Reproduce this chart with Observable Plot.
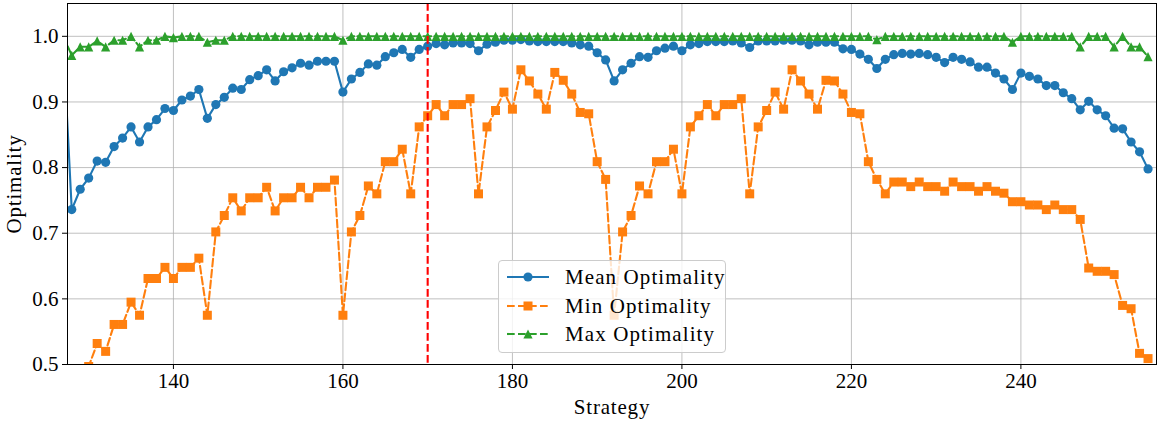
<!DOCTYPE html>
<html>
<head>
<meta charset="utf-8">
<script src="https://cdn.jsdelivr.net/npm/d3@7"></script>
<script src="https://cdn.jsdelivr.net/npm/@observablehq/plot@0.6"></script>
<style>
  html, body { margin: 0; padding: 0; background: white; }
  #wrap { position: relative; width: 1157px; height: 421px; font-family: "Liberation Serif", serif; }
  #legend { position: absolute; left: 498px; top: 260px; width: 228px; height: 93px;
    background: rgba(255,255,255,0.8); border: 1px solid #cccccc; border-radius: 4px; box-sizing: border-box; }
  #legend .row { position: absolute; left: 0; height: 26px; width: 100%; }
  #legend svg { position: absolute; left: 0; top: 0; }
  #legend span { position: absolute; left: 66px; top: 0; line-height: 26px; font-size: 21px; letter-spacing: 1.1px; color: black; white-space: nowrap; }
  g[aria-label$="axis label"] text { letter-spacing: 0.8px; }
</style>
</head>
<body>
<div id="wrap"><div id="chart"></div><div id="legend"></div></div>
<script>
// ---- data ----
const firstStrategy = 127;
const meanOptimality = [
  0.990, 0.736, 0.767, 0.784, 0.810, 0.808, 0.832, 0.845, 0.862, 0.839,
  0.862, 0.873, 0.890, 0.887, 0.903, 0.909, 0.919, 0.875, 0.896, 0.907,
  0.921, 0.919, 0.934, 0.940, 0.949, 0.932, 0.946, 0.952, 0.959, 0.956,
  0.962, 0.962, 0.962, 0.915, 0.935, 0.945, 0.958, 0.956, 0.969, 0.975,
  0.980, 0.968, 0.980, 0.985, 0.989, 0.987, 0.990, 0.990, 0.989, 0.978,
  0.988, 0.991, 0.994, 0.994, 0.995, 0.993, 0.992, 0.992, 0.992, 0.992,
  0.990, 0.987, 0.985, 0.975, 0.964, 0.932, 0.949, 0.959, 0.969, 0.968,
  0.978, 0.982, 0.985, 0.978, 0.987, 0.989, 0.992, 0.992, 0.992, 0.993,
  0.990, 0.983, 0.993, 0.993, 0.993, 0.994, 0.994, 0.993, 0.987, 0.991,
  0.991, 0.991, 0.981, 0.980, 0.973, 0.965, 0.951, 0.965, 0.972, 0.974,
  0.973, 0.974, 0.972, 0.968, 0.960, 0.968, 0.965, 0.961, 0.953, 0.953,
  0.944, 0.935, 0.919, 0.944, 0.939, 0.935, 0.925, 0.925, 0.914, 0.905,
  0.888, 0.901, 0.888, 0.879, 0.860, 0.859, 0.839, 0.824, 0.798
];
const minOptimality = [
  0.460, 0.440, 0.470, 0.497, 0.532, 0.520, 0.561, 0.561, 0.595, 0.575,
  0.631, 0.631, 0.648, 0.631, 0.648, 0.648, 0.662, 0.575, 0.702, 0.727,
  0.754, 0.734, 0.754, 0.754, 0.770, 0.734, 0.754, 0.754, 0.770, 0.754,
  0.770, 0.770, 0.781, 0.575, 0.702, 0.727, 0.772, 0.760, 0.809, 0.809,
  0.828, 0.760, 0.862, 0.879, 0.896, 0.879, 0.896, 0.896, 0.905, 0.760,
  0.862, 0.887, 0.915, 0.889, 0.949, 0.932, 0.912, 0.889, 0.945, 0.933,
  0.912, 0.884, 0.882, 0.809, 0.782, 0.575, 0.702, 0.727, 0.772, 0.760,
  0.809, 0.809, 0.828, 0.760, 0.862, 0.879, 0.896, 0.879, 0.896, 0.896,
  0.905, 0.760, 0.862, 0.887, 0.915, 0.889, 0.949, 0.932, 0.912, 0.889,
  0.933, 0.932, 0.912, 0.884, 0.882, 0.809, 0.782, 0.760, 0.778, 0.778,
  0.771, 0.778, 0.771, 0.771, 0.764, 0.778, 0.771, 0.771, 0.764, 0.771,
  0.764, 0.761, 0.748, 0.748, 0.743, 0.743, 0.736, 0.743, 0.736, 0.736,
  0.721, 0.647, 0.642, 0.642, 0.637, 0.590, 0.585, 0.517, 0.509
];
const maxOptimality = [
  1.000, 0.971, 0.984, 0.984, 0.993, 0.984, 0.994, 0.994, 1.000, 0.984,
  0.994, 0.994, 1.000, 0.998, 1.000, 1.000, 1.000, 0.991, 0.994, 0.994,
  1.000, 1.000, 1.000, 1.000, 1.000, 1.000, 1.000, 1.000, 1.000, 1.000,
  1.000, 1.000, 1.000, 0.994, 1.000, 1.000, 1.000, 1.000, 1.000, 1.000,
  1.000, 1.000, 1.000, 1.000, 1.000, 1.000, 1.000, 1.000, 1.000, 1.000,
  1.000, 1.000, 1.000, 1.000, 1.000, 1.000, 1.000, 1.000, 1.000, 1.000,
  1.000, 1.000, 1.000, 1.000, 1.000, 1.000, 1.000, 1.000, 1.000, 1.000,
  1.000, 1.000, 1.000, 1.000, 1.000, 1.000, 1.000, 1.000, 1.000, 1.000,
  1.000, 1.000, 1.000, 1.000, 1.000, 1.000, 1.000, 1.000, 1.000, 1.000,
  1.000, 1.000, 1.000, 1.000, 1.000, 1.000, 0.995, 1.000, 1.000, 1.000,
  1.000, 1.000, 1.000, 1.000, 1.000, 1.000, 1.000, 1.000, 1.000, 1.000,
  1.000, 1.000, 0.991, 1.000, 1.000, 1.000, 1.000, 1.000, 1.000, 1.000,
  0.984, 1.000, 1.000, 1.000, 0.984, 1.000, 0.984, 0.984, 0.969
];
const xTicks = [140, 160, 180, 200, 220, 240];
const yTicks = [0.5, 0.6, 0.7, 0.8, 0.9, 1.0];
const markerLine = [170];
const seriesNames = ["Mean Optimality", "Min Optimality", "Max Optimality"];
const colors = ["#1f77b4", "#ff7f0e", "#2ca02c"];

const rows = meanOptimality.map((m, i) => ({
  s: firstStrategy + i, mean: m, min: minOptimality[i], max: maxOptimality[i]
}));

// matplotlib-like marker shapes
const squareSym = { draw(ctx, size) { const r = Math.sqrt(size / Math.PI); ctx.rect(-r, -r, 2 * r, 2 * r); } };
const triSym = { draw(ctx, size) { const r = Math.sqrt(size / Math.PI); ctx.moveTo(0, -r); ctx.lineTo(r, r); ctx.lineTo(-r, r); ctx.closePath(); } };

const dash = "7.7,3.3";
const lw = 2.1;

const chart = Plot.plot({
  width: 1157,
  height: 421,
  marginLeft: 67,
  marginRight: 1,
  marginTop: 3,
  marginBottom: 57,
  style: { fontFamily: "Liberation Serif, serif", fontSize: "21px", color: "black", background: "white" },
  x: { domain: [127.5, 256] },
  y: { domain: [0.5, 1.05] },
  marks: [
    Plot.gridX(xTicks, { stroke: "#b0b0b0", strokeOpacity: 1, strokeWidth: 0.8 }),
    Plot.gridY(yTicks, { stroke: "#b0b0b0", strokeOpacity: 1, strokeWidth: 0.8 }),
    Plot.line(rows, { x: "s", y: "mean", stroke: colors[0], strokeWidth: lw, clip: true }),
    Plot.dot(rows, { x: "s", y: "mean", r: 4.6, fill: colors[0], symbol: "circle", clip: true }),
    Plot.line(rows, { x: "s", y: "min", stroke: colors[1], strokeWidth: lw, strokeDasharray: dash, clip: true }),
    Plot.dot(rows, { x: "s", y: "min", r: 4.5, fill: colors[1], symbol: squareSym, clip: true }),
    Plot.line(rows, { x: "s", y: "max", stroke: colors[2], strokeWidth: lw, strokeDasharray: dash, clip: true }),
    Plot.dot(rows, { x: "s", y: "max", r: 4.6, fill: colors[2], symbol: triSym, clip: true }),
    Plot.ruleX(markerLine, { stroke: "#ff0000", strokeWidth: lw, strokeDasharray: dash }),
    Plot.frame({ stroke: "black", strokeWidth: 1 }),
    Plot.axisX(xTicks, { tickSize: 5, tickPadding: 4, label: "Strategy", labelAnchor: "center", labelOffset: 49, labelArrow: "none" }),
    Plot.axisY(yTicks, { tickSize: 5, tickPadding: 4, tickFormat: d3.format(".1f"), label: "Optimality", labelAnchor: "center", labelOffset: 61, labelArrow: "none" })
  ]
});
document.getElementById("chart").appendChild(chart);

// legend overlay inside the axes
const legend = document.getElementById("legend");
const rowTops = [3, 32, 60];
const markers = ["circle", "square", "tri"];
seriesNames.forEach((name, i) => {
  const row = document.createElement("div");
  row.className = "row";
  row.style.top = rowTops[i] + "px";
  const ns = "http://www.w3.org/2000/svg";
  const svg = document.createElementNS(ns, "svg");
  svg.setAttribute("width", "60"); svg.setAttribute("height", "26");
  const ln = document.createElementNS(ns, "line");
  ln.setAttribute("x1", 8); ln.setAttribute("x2", 50); ln.setAttribute("y1", 13); ln.setAttribute("y2", 13);
  ln.setAttribute("stroke", colors[i]); ln.setAttribute("stroke-width", lw);
  if (i > 0) ln.setAttribute("stroke-dasharray", dash);
  svg.appendChild(ln);
  let mk;
  if (markers[i] === "circle") {
    mk = document.createElementNS(ns, "circle");
    mk.setAttribute("cx", 29); mk.setAttribute("cy", 13); mk.setAttribute("r", 4.6);
  } else if (markers[i] === "square") {
    mk = document.createElementNS(ns, "rect");
    mk.setAttribute("x", 24.5); mk.setAttribute("y", 8.5); mk.setAttribute("width", 9); mk.setAttribute("height", 9);
  } else {
    mk = document.createElementNS(ns, "path");
    mk.setAttribute("d", "M29,8.4L33.6,17.6L24.4,17.6Z");
  }
  mk.setAttribute("fill", colors[i]);
  svg.appendChild(mk);
  row.appendChild(svg);
  const sp = document.createElement("span");
  sp.textContent = name;
  row.appendChild(sp);
  legend.appendChild(row);
});
</script>
</body>
</html>
